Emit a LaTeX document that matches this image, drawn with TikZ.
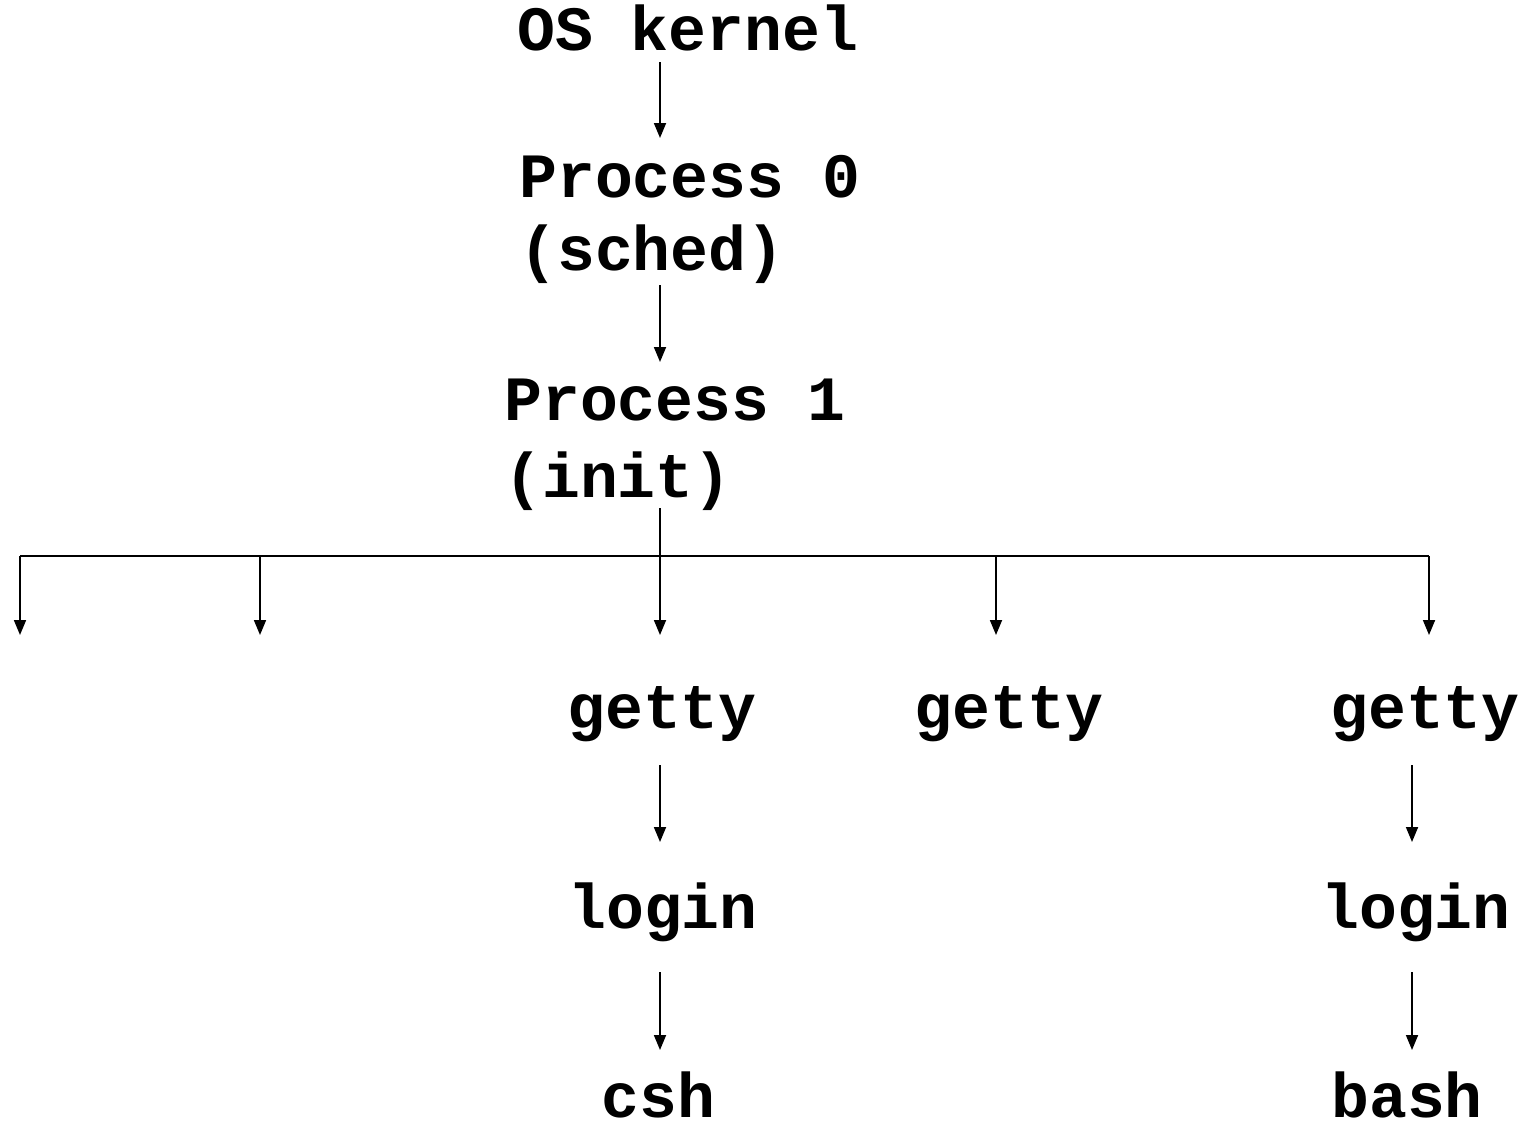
\documentclass[tikz,border=0pt]{standalone}
\usepackage{fontspec}
\setmonofont{Liberation Mono}
\usetikzlibrary{arrows.meta}

\tikzset{
	proc/.style={anchor=base west, inner sep=0pt, font=\ttfamily\bfseries\fontsize{35.9}{42}\selectfont},
	arr/.style={line width=1pt, -{Triangle[length=0.3cm,width=0.24cm]}},
}

\begin{document}
\begin{tikzpicture}[x=0.02cm,y=-0.02cm]
		\useasboundingbox (0,0) rectangle (1530,1129);
		\coordinate (mid) at (660,0);
		\coordinate (right) at (1412,0);
		% top of the tree
		\node[proc] (kernel) at (517,50) {OS kernel};
		\node[proc] (p0) at (519,197) {Process 0};
		\node[proc] (sched) at (519,270) {(sched)};
		\node[proc] (p1) at (504,420) {Process 1};
		\node[proc] (init) at (504,497) {(init)};
		\draw[arr] (kernel.base -| mid) ++(0,12) -- ++(0,76);
		\draw[arr] (sched.base -| mid) ++(0,15) -- ++(0,77);
		% fan out of init
		\coordinate (busL) at (20,556);
		\coordinate (busR) at (1429,556);
		\draw[line width=1pt] (init.base -| mid) ++(0,11) -- (mid |- busL);
		\draw[line width=1pt] (busL) -- (busR);
		\foreach \x/\n in {20/a,260/b,660/c,996/d,1429/e}
			\draw[arr] (\x,556) coordinate (top-\n) -- ++(0,79) coordinate (tip-\n);
		% terminals
		\node[proc] (getty1) at (567,728) {getty};
		\node[proc] (getty2) at (914,728) {getty};
		\node[proc] (getty3) at (1330,728) {getty};
		\node[proc] (login1) at (568,928) {login};
		\node[proc] (login2) at (1321,928) {login};
		\node[proc] (csh) at (601,1117) {csh};
		\node[proc] (bash) at (1331,1117) {bash};
		\draw[arr] (getty1.base -| mid) ++(0,37) -- ++(0,77);
		\draw[arr] (login1.base -| mid) ++(0,44) -- ++(0,78);
		\draw[arr] (getty3.base -| right) ++(0,37) -- ++(0,77);
		\draw[arr] (login2.base -| right) ++(0,44) -- ++(0,78);
\end{tikzpicture}
\end{document}
